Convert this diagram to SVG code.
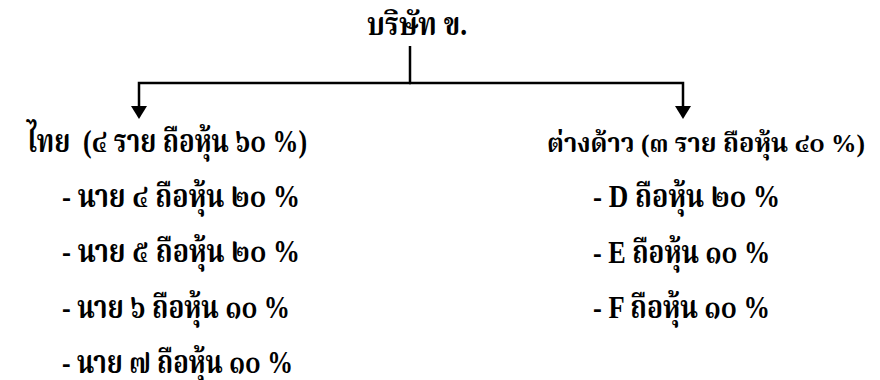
<svg xmlns="http://www.w3.org/2000/svg" width="880" height="380" viewBox="0 0 880 380">
<style>
.t{font-family:"Liberation Serif","Noto Serif Thai",serif;font-size:32px;font-weight:bold;fill:#000;white-space:pre}
.s{font-size:26px}
.c{fill:none;stroke:#000;stroke-width:2.5}
</style>
<defs>
<marker id="ah" markerUnits="userSpaceOnUse" markerWidth="13" markerHeight="16" refX="2" refY="8" orient="auto" viewBox="0 0 13 16">
<path d="M0,0 L13,8 L0,16 Z" fill="#000"/>
</marker>
</defs>
<rect width="880" height="380" fill="#fff"/>
<g id="connectors">
<path class="c" d="M410,46 V83"/>
<path class="c" d="M411,83 H139 V108" marker-end="url(#ah)"/>
<path class="c" d="M409,83 H683 V108" marker-end="url(#ah)"/>
</g>
<g id="company">
<text class="t" x="367" y="35" textLength="100" lengthAdjust="spacingAndGlyphs">บริษัท ข.</text>
</g>
<g id="thai">
<text class="t" x="27" y="152" textLength="280" lengthAdjust="spacingAndGlyphs">ไทย  (๔ ราย ถือหุ้น ๖๐ %)</text>
<text class="t" x="62" y="207" textLength="238" lengthAdjust="spacingAndGlyphs">- นาย ๔ ถือหุ้น ๒๐ %</text>
<text class="t" x="62" y="262" textLength="238" lengthAdjust="spacingAndGlyphs">- นาย ๕ ถือหุ้น ๒๐ %</text>
<text class="t" x="62" y="318" textLength="228" lengthAdjust="spacingAndGlyphs">- นาย ๖ ถือหุ้น ๑๐ %</text>
<text class="t" x="62" y="373" textLength="231" lengthAdjust="spacingAndGlyphs">- นาย ๗ ถือหุ้น ๑๐ %</text>
</g>
<g id="foreign">
<text class="t s" x="547" y="152" textLength="318" lengthAdjust="spacingAndGlyphs">ต่างด้าว (๓ ราย ถือหุ้น ๔๐ %)</text>
<text class="t" x="593" y="207" textLength="187" lengthAdjust="spacingAndGlyphs">- D ถือหุ้น ๒๐ %</text>
<text class="t" x="593" y="263" textLength="177" lengthAdjust="spacingAndGlyphs">- E ถือหุ้น ๑๐ %</text>
<text class="t" x="593" y="318" textLength="177" lengthAdjust="spacingAndGlyphs">- F ถือหุ้น ๑๐ %</text>
</g>
</svg>
